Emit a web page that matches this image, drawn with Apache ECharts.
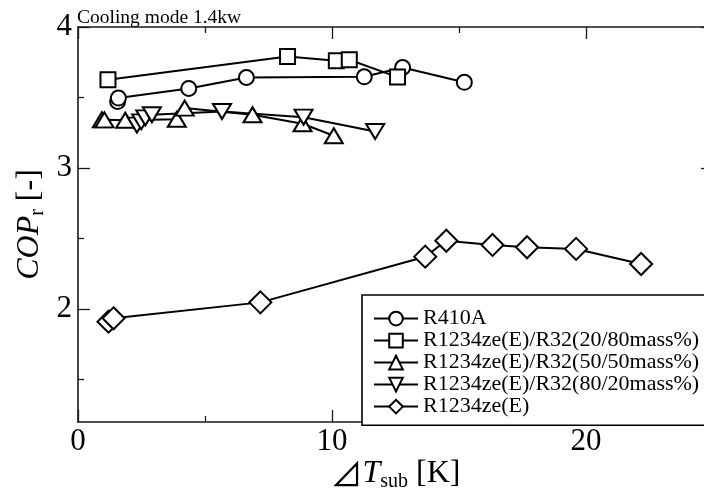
<!DOCTYPE html>
<html><head><meta charset="utf-8">
<script src="https://cdn.jsdelivr.net/npm/echarts@6/dist/echarts.min.js"></script>
<style>html,body{margin:0;padding:0;background:#fff}#c{width:704px;height:504px}</style>
</head><body><div id="c"></div>
<script>
// ---- data ----
const titleText = 'Cooling mode 1.4kw';
const seriesNames = ['R410A', 'R1234ze(E)/R32(20/80mass%)', 'R1234ze(E)/R32(50/50mass%)', 'R1234ze(E)/R32(80/20mass%)', 'R1234ze(E)'];
const r410aX = [1.56, 1.59, 4.36, 6.63, 11.27, 12.78, 15.21];
const r410aY = [3.472, 3.496, 3.564, 3.642, 3.647, 3.713, 3.608];
const mix2080X = [1.18, 8.25, 10.17, 10.68, 12.58];
const mix2080Y = [3.626, 3.791, 3.761, 3.768, 3.645];
const mix5050X = [0.94, 1.04, 1.86, 3.89, 4.20, 6.87, 8.84, 10.07];
const mix5050Y = [3.342, 3.342, 3.339, 3.346, 3.425, 3.378, 3.314, 3.229];
const mix8020X = [2.32, 2.49, 2.65, 2.91, 5.67, 8.88, 11.70];
const mix8020Y = [3.305, 3.328, 3.356, 3.378, 3.401, 3.361, 3.259];
const zeX = [1.20, 1.40, 7.18, 13.67, 14.50, 16.32, 17.68, 19.61, 22.17];
const zeY = [1.911, 1.935, 2.048, 2.372, 2.485, 2.455, 2.439, 2.427, 2.320];
const xMajorTicks = [0, 10, 20];
const xMinorTicks = [5, 15, 25];
const yMajorTicks = [2, 3, 4];
const yMinorTicks = [1.5, 2.5, 3.5];
const xRange = [0, 25];
const yRange = [1.2, 4];

// ---- chart ----
const FONT = '"Liberation Serif","Times New Roman",serif';
const AX = '#1a1a1a';
function zip(xs, ys) { return xs.map((x, i) => [x, ys[i]]); }

function xAx(pos, ticks, len, lineShow, labelShow, extra) {
  return Object.assign({
    type: 'value', gridIndex: 0, position: pos, min: xRange[0], max: xRange[1],
    axisLine: { show: lineShow, onZero: false, lineStyle: { color: AX, width: 1.6 } },
    axisTick: { show: true, inside: true, length: len, customValues: ticks, lineStyle: { color: AX, width: 1.3 } },
    axisLabel: { show: labelShow, customValues: ticks, color: '#000', fontFamily: FONT, fontSize: 31, margin: 4 },
    splitLine: { show: false }
  }, extra || {});
}
function yAx(pos, ticks, len, lineShow, labelShow, extra) {
  return Object.assign({
    type: 'value', gridIndex: 0, position: pos, min: yRange[0], max: yRange[1],
    axisLine: { show: lineShow, onZero: false, lineStyle: { color: AX, width: 1.6 } },
    axisTick: { show: true, inside: true, length: len, customValues: ticks, lineStyle: { color: AX, width: 1.3 } },
    axisLabel: { show: labelShow, customValues: ticks, color: '#000', fontFamily: FONT, fontSize: 31, margin: 6 },
    splitLine: { show: false }
  }, extra || {});
}

const xName = {
  name: '{t|⊿}{i|T}{s|sub}{n| [K]}', nameLocation: 'middle', nameGap: 34, nameMoveOverlap: false,
  nameTextStyle: { color: '#000', fontFamily: FONT, rich: {
    t: { fontSize: 32, fontFamily: '"Noto Sans CJK JP","DejaVu Sans",sans-serif', color: '#000', lineHeight: 36 },
    i: { fontSize: 32, fontStyle: 'italic', fontFamily: FONT, color: '#000', lineHeight: 36 },
    s: { fontSize: 20, fontFamily: FONT, color: '#000', lineHeight: 14, verticalAlign: 'bottom' },
    n: { fontSize: 32, fontFamily: FONT, color: '#000', lineHeight: 36 }
  } }
};
const yName = {
  name: '{i|COP}{s|r}{n| [-]}', nameLocation: 'middle', nameGap: 30, nameRotate: 90, nameMoveOverlap: false,
  nameTextStyle: { color: '#000', fontFamily: FONT, rich: {
    i: { fontSize: 32, fontStyle: 'italic', fontFamily: FONT, color: '#000', lineHeight: 36 },
    s: { fontSize: 20, fontFamily: FONT, color: '#000', lineHeight: 14, verticalAlign: 'bottom' },
    n: { fontSize: 32, fontFamily: FONT, color: '#000', lineHeight: 36 }
  } }
};

function mkSeries(name, data, symbol, size, rotate) {
  return {
    name: name, type: 'line', xAxisIndex: 0, yAxisIndex: 0, data: data,
    symbol: symbol, symbolSize: size, symbolRotate: rotate || 0, showAllSymbol: true,
    lineStyle: { color: '#000', width: 2 },
    itemStyle: { color: '#fff', borderColor: '#000', borderWidth: 2 },
    emphasis: { disabled: true }, clip: false
  };
}

const chart = echarts.init(document.getElementById('c'), null, { renderer: 'canvas' });
chart.setOption({
  animation: false,
  backgroundColor: '#fff',
  title: { text: titleText, left: 77, top: 8, padding: 0,
    textStyle: { fontFamily: FONT, fontSize: 19.5, fontWeight: 'normal', color: '#000' } },
  grid: { left: 78, top: 27, width: 635, height: 395, outerBoundsMode: 'none', containLabel: false },
  legend: {
    orient: 'vertical', left: 362, top: 295,
    padding: [12.6, 40, 7.7, 11], itemGap: 0, itemWidth: 44, itemHeight: 17,
    borderColor: '#000', borderWidth: 1.6, backgroundColor: '#fff',
    textStyle: { fontFamily: FONT, fontSize: 22, color: '#000', lineHeight: 21.3 },
    data: seriesNames
  },
  xAxis: [
    xAx('bottom', xMajorTicks, 12, true, true, xName),
    xAx('bottom', xMinorTicks, 6, false, false),
    xAx('top', xMajorTicks, 12, true, false),
    xAx('top', xMinorTicks, 6, false, false)
  ],
  yAxis: [
    yAx('left', yMajorTicks, 12, true, true, yName),
    yAx('left', yMinorTicks, 6, false, false),
    yAx('right', yMajorTicks, 12, true, false),
    yAx('right', yMinorTicks, 6, false, false)
  ],
  series: [
    mkSeries(seriesNames[0], zip(r410aX, r410aY), 'circle', 15),
    mkSeries(seriesNames[1], zip(mix2080X, mix2080Y), 'rect', 15),
    mkSeries(seriesNames[2], zip(mix5050X, mix5050Y), 'triangle', [18, 15]),
    mkSeries(seriesNames[3], zip(mix8020X, mix8020Y), 'triangle', [18, 15], 180),
    mkSeries(seriesNames[4], zip(zeX, zeY), 'diamond', 22)
  ]
});
</script></body></html>
